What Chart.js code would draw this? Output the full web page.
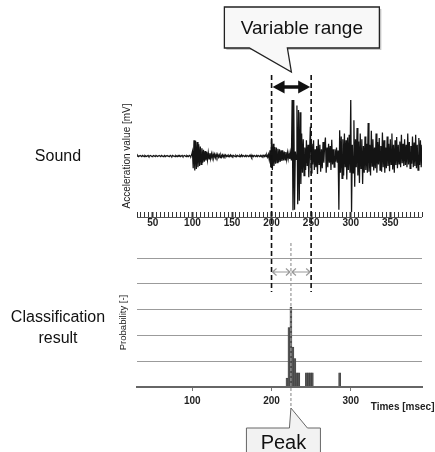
<!DOCTYPE html>
<html>
<head>
<meta charset="utf-8">
<script src="https://cdn.jsdelivr.net/npm/chart.js@4"></script>
<style>
  html, body { margin: 0; padding: 0; background: #fff; }
  #wrap { position: relative; width: 435px; height: 452px; overflow: hidden; }
  #sound { position: absolute; left: 0; top: 0; }
  #result { position: absolute; left: 0; top: 235px; }
</style>
</head>
<body>
<div id="wrap">
  <canvas id="sound" width="435" height="235"></canvas>
  <canvas id="result" width="435" height="217"></canvas>
</div>
<script>
(function () {
	'use strict';

	// Sound waveform, one sample per msec starting at 30 msec
	const soundStartMs = 30;
	const soundValues = [
		0, 0.01, -0.01, 0, 0.01, 0, -0.01, 0.01, 0, -0.01,               // 30
		0.01, 0, -0.01, 0, 0.01, -0.01, 0, 0.01, 0, -0.01,               // 40
		0, 0.01, 0, -0.01, 0.01, 0, -0.01, 0, 0.01, 0,                   // 50
		-0.01, 0.01, 0, -0.01, 0, 0.01, -0.01, 0, 0.01, 0,               // 60
		0, -0.01, 0.01, 0, -0.01, 0.01, 0, 0, -0.01, 0.01,               // 70
		0, -0.01, 0.01, 0, 0.01, -0.01, 0, 0.01, -0.01, 0,               // 80
		0.01, 0, -0.01, 0.01, 0, -0.01, 0.01, 0, -0.01, 0.02,            // 90
		0.08, -0.22, 0.28, -0.26, 0.27, -0.23, 0.25, -0.2, 0.21, -0.18,  // 100
		0.17, -0.15, 0.14, -0.12, 0.11, -0.1, 0.09, -0.08, 0.07, -0.07,  // 110
		0.06, -0.05, 0.05, -0.05, 0.04, -0.04, 0.04, -0.03, 0.03, -0.03, // 120
		0.03, -0.02, 0.03, -0.02, 0.02, -0.03, 0.02, -0.02, 0.02, -0.02, // 130
		0.02, -0.01, 0.02, -0.01, 0.01, -0.01, 0.01, -0.01, 0.02, -0.01, // 140
		0.01, -0.01, 0.01, 0, -0.01, 0.01, -0.01, 0.01, 0, -0.01,        // 150
		0.01, -0.01, 0.02, -0.01, 0.01, 0, -0.01, 0.01, -0.01, 0.01,     // 160
		0, -0.01, 0.01, -0.01, 0.02, -0.02, 0.01, -0.01, 0.01, 0,        // 170
		-0.01, 0.01, -0.01, 0.01, 0, -0.01, 0.01, -0.01, 0.01, -0.01,    // 180
		0.01, -0.01, 0.02, -0.01, 0.02, -0.02, 0.03, -0.06, 0.1, -0.2,   // 190
		0.32, -0.25, 0.22, -0.18, 0.16, -0.14, 0.15, -0.12, 0.13, -0.11, // 200
		0.12, -0.1, 0.1, -0.09, 0.1, -0.08, 0.08, -0.07, 0.07, -0.06,    // 210
		0.06, -0.05, 0.05, -0.05, 0.06, -0.08, 1.05, -0.97, 1.05, -0.96, // 220
		0.08, -0.06, 0.9, -0.86, 0.82, -0.8, 0.78, -0.5, 0.4, -0.3,      // 230
		0.3, -0.35, 0.15, -0.25, 0.28, -0.18, 0.2, -0.38, 0.1, 0.52,     // 240
		-0.3, 0.22, -0.15, 0.28, -0.25, 0.12, -0.2, 0.18, -0.32, 0.3,    // 250
		-0.15, 0.2, -0.28, 0.12, -0.22, 0.25, -0.12, 0.18, 0.33, -0.3,   // 260
		0.15, -0.2, 0.22, -0.12, 0.18, -0.25, 0.29, -0.15, 0.12, -0.2,   // 270
		0.12, -0.1, 0.15, -0.12, 0.1, -0.96, 0.46, -0.3, 0.35, -0.4,     // 280
		0.3, -0.35, 0.4, -0.2, 0.28, -0.42, 0.33, -0.25, 0.38, -0.3,     // 290
		1.05, -1.02, 0.2, -0.3, 0.64, -0.55, 0.3, -0.2, 0.5, -0.35,      // 300
		0.26, -0.48, 0.4, -0.22, 0.3, -0.5, 0.18, -0.3, 0.35, -0.25,     // 310
		0.22, -0.3, 0.59, -0.28, 0.2, -0.35, 0.45, -0.18, 0.3, -0.26,    // 320
		0.15, -0.22, 0.4, -0.3, 0.25, -0.15, 0.32, -0.25, 0.18, -0.28,   // 330
		0.42, -0.2, 0.28, -0.3, 0.15, -0.22, 0.35, -0.18, 0.22, -0.27,   // 340
		0.3, -0.15, 0.4, -0.24, 0.2, -0.3, 0.28, -0.16, 0.34, -0.22,     // 350
		0.2, -0.14, 0.26, -0.2, 0.38, -0.13, 0.22, -0.18, 0.3, -0.16,    // 360
		0.2, -0.2, 0.4, -0.15, 0.25, -0.22, 0.18, -0.14, 0.35, -0.2,     // 370
		0.24, -0.18, 0.38, -0.22, 0.2, -0.25, 0.32, -0.16, 0.28, -0.2,   // 380
		0.2                                                               // 390
	];

	// Classification result (probability per frame)
	const probTimes = [219.5, 222, 224.5, 227, 229.5, 232, 234.5, 244, 246.5, 249, 251.5, 286];
	const probValues = [0.07, 0.46, 0.62, 0.31, 0.22, 0.11, 0.11, 0.11, 0.11, 0.11, 0.11, 0.11];

	// Variable range (msec)
	const rangeStart = 200;
	const rangeEnd = 250;

	const timeMin = 30;
	const timeMax = 390;

	const peakIndex = probValues.indexOf( Math.max( ...probValues ) );
	const peakTime = probTimes[ peakIndex ];

	const FONT = '"Liberation Sans", Arial, sans-serif';
	Chart.defaults.font.family = FONT;
	Chart.defaults.color = '#222';

	const drawDashed = ( ctx, x, y1, y2, dash, color, width ) => {
		ctx.save();
		ctx.setLineDash( dash );
		ctx.strokeStyle = color;
		ctx.lineWidth = width;
		ctx.beginPath();
		ctx.moveTo( x, y1 );
		ctx.lineTo( x, y2 );
		ctx.stroke();
		ctx.restore();
	};

	// Overlays on the sound chart: label, tick base line, range marks, callout
	const soundOverlay = {
		id: 'soundOverlay',
		afterDraw( chart ) {
			const { ctx, chartArea, scales: { x, y } } = chart;
			const xs = x.getPixelForValue( rangeStart );
			const xe = x.getPixelForValue( rangeEnd );
			const mid = ( xs + xe ) / 2;

			ctx.save();
			ctx.fillStyle = '#111';
			ctx.font = '16px ' + FONT;
			ctx.textAlign = 'center';
			ctx.textBaseline = 'middle';
			ctx.fillText( 'Sound', 58, y.getPixelForValue( 0 ) + 1 );

			// base line under the tick comb
			ctx.strokeStyle = '#555';
			ctx.lineWidth = 1;
			ctx.beginPath();
			ctx.moveTo( chartArea.left, x.top + 5.5 );
			ctx.lineTo( chartArea.right, x.top + 5.5 );
			ctx.stroke();

			drawDashed( ctx, xs, chartArea.top - 25, chart.height, [ 5, 3 ], '#111', 1.6 );
			drawDashed( ctx, xe, chartArea.top - 25, chart.height, [ 5, 3 ], '#111', 1.6 );

			// black double arrow
			const ay = chartArea.top - 13;
			ctx.strokeStyle = '#111';
			ctx.fillStyle = '#111';
			ctx.lineWidth = 3.5;
			ctx.beginPath();
			ctx.moveTo( xs + 8, ay );
			ctx.lineTo( xe - 8, ay );
			ctx.stroke();
			ctx.beginPath();
			ctx.moveTo( xs + 1, ay );
			ctx.lineTo( xs + 13, ay - 6.5 );
			ctx.lineTo( xs + 13, ay + 6.5 );
			ctx.closePath();
			ctx.fill();
			ctx.beginPath();
			ctx.moveTo( xe - 1, ay );
			ctx.lineTo( xe - 13, ay - 6.5 );
			ctx.lineTo( xe - 13, ay + 6.5 );
			ctx.closePath();
			ctx.fill();

			// "Variable range" callout
			const bl = mid - 67, br = mid + 88, bt = 7, bb = 48;
			const tipY = chartArea.top - 28;
			ctx.fillStyle = '#c9c9c9';
			ctx.fillRect( bl + 2, bt + 2, br - bl, bb - bt );
			ctx.beginPath();
			ctx.moveTo( bl, bt );
			ctx.lineTo( br, bt );
			ctx.lineTo( br, bb );
			ctx.lineTo( mid - 4, bb );
			ctx.lineTo( mid, tipY );
			ctx.lineTo( mid - 42, bb );
			ctx.lineTo( bl, bb );
			ctx.closePath();
			ctx.fillStyle = '#f8f8f8';
			ctx.fill();
			ctx.strokeStyle = '#222';
			ctx.lineWidth = 1.3;
			ctx.stroke();
			ctx.fillStyle = '#111';
			ctx.font = '19px ' + FONT;
			ctx.fillText( 'Variable range', ( bl + br ) / 2, ( bt + bb ) / 2 + 1 );
			ctx.restore();
		}
	};

	// Overlays on the classification chart
	const resultOverlay = {
		id: 'resultOverlay',
		afterDraw( chart ) {
			const { ctx, chartArea, scales: { x } } = chart;
			const xs = x.getPixelForValue( rangeStart );
			const xe = x.getPixelForValue( rangeEnd );
			const xp = x.getPixelForValue( peakTime );

			ctx.save();
			ctx.fillStyle = '#111';
			ctx.font = '16px ' + FONT;
			ctx.textAlign = 'center';
			ctx.textBaseline = 'middle';
			ctx.fillText( 'Classification', 58, chartArea.top + 60 );
			ctx.fillText( 'result', 58, chartArea.top + 81 );

			ctx.font = 'bold 10px ' + FONT;
			ctx.textAlign = 'left';
			ctx.fillStyle = '#222';
			ctx.fillText( 'Times [msec]', x.getPixelForValue( 300 ) + 20, chartArea.bottom + 20 );

			drawDashed( ctx, xs, 0, chartArea.top + 34, [ 5, 3 ], '#111', 1.6 );
			drawDashed( ctx, xe, 0, chartArea.top + 34, [ 5, 3 ], '#111', 1.6 );
			drawDashed( ctx, xp, chartArea.top - 15, chartArea.bottom + 21, [ 3, 2 ], '#999', 1.2 );

			// gray double arrows: start -> peak -> end
			const ay = chartArea.top + 14;
			ctx.strokeStyle = '#9a9a9a';
			ctx.lineWidth = 1.2;
			[ [ xs, xp ], [ xp, xe ] ].forEach( ( [ a, b ] ) => {
				ctx.beginPath();
				ctx.moveTo( a + 1, ay );
				ctx.lineTo( b - 1, ay );
				ctx.moveTo( a + 5, ay - 3.5 );
				ctx.lineTo( a + 1, ay );
				ctx.lineTo( a + 5, ay + 3.5 );
				ctx.moveTo( b - 5, ay - 3.5 );
				ctx.lineTo( b - 1, ay );
				ctx.lineTo( b - 5, ay + 3.5 );
				ctx.stroke();
			} );

			// "Peak" callout
			const tipY = chartArea.bottom + 21;
			const bt = chartArea.bottom + 41;
			const bl = xp - 44.5, br = xp + 29.5, bb = bt + 40;
			ctx.beginPath();
			ctx.moveTo( bl, bt );
			ctx.lineTo( xp - 1.5, bt );
			ctx.lineTo( xp, tipY );
			ctx.lineTo( xp + 16.5, bt );
			ctx.lineTo( br, bt );
			ctx.lineTo( br, bb );
			ctx.lineTo( bl, bb );
			ctx.closePath();
			ctx.fillStyle = '#f2f2f2';
			ctx.fill();
			ctx.strokeStyle = '#666';
			ctx.lineWidth = 1;
			ctx.stroke();
			ctx.fillStyle = '#111';
			ctx.font = '20px ' + FONT;
			ctx.textAlign = 'center';
			ctx.fillText( 'Peak', ( bl + br ) / 2, bt + 15 );
			ctx.restore();
		}
	};

	new Chart( document.getElementById( 'sound' ), {
		type: 'line',
		data: {
			datasets: [ {
				label: 'Sound',
				data: soundValues.map( ( v, i ) => ( { x: soundStartMs + i, y: v } ) ),
				borderColor: '#141414',
				borderWidth: 1.25,
				pointRadius: 0,
				tension: 0,
				fill: false
			} ]
		},
		options: {
			responsive: false,
			animation: false,
			layout: { padding: { left: 121, top: 100, right: 13, bottom: 6 } },
			plugins: { legend: { display: false }, tooltip: { enabled: false } },
			scales: {
				x: {
					type: 'linear',
					min: timeMin,
					max: timeMax,
					ticks: {
						stepSize: 5,
						autoSkip: false,
						maxRotation: 0,
						padding: 0,
						color: '#222',
						font: { size: 10, weight: 'bold' },
						callback: v => v % 50 === 0 ? String( v ) : ''
					},
					grid: {
						drawOnChartArea: false,
						tickLength: 5,
						tickColor: '#333',
						tickWidth: c => c.tick && c.tick.value % 50 === 0 ? 2 : 1
					},
					border: { display: false }
				},
				y: {
					min: -1,
					max: 1,
					ticks: { display: false },
					grid: { display: false, drawTicks: false },
					border: { display: false },
					title: {
						display: true,
						text: 'Acceleration value [mV]',
						color: '#1a1a1a',
						font: { size: 10 },
						padding: { top: 0, bottom: 4 }
					}
				}
			}
		},
		plugins: [ soundOverlay ]
	} );

	new Chart( document.getElementById( 'result' ), {
		type: 'bar',
		data: {
			datasets: [ {
				label: 'Probability',
				data: probTimes.map( ( t, i ) => ( { x: t, y: probValues[ i ] } ) ),
				backgroundColor: '#555',
				borderColor: '#333',
				borderWidth: 0.5,
				barPercentage: 1,
				categoryPercentage: 1
			} ]
		},
		options: {
			responsive: false,
			animation: false,
			layout: { padding: { left: 117.5, top: 23, right: 13, bottom: 41 } },
			plugins: { legend: { display: false }, tooltip: { enabled: false } },
			scales: {
				x: {
					type: 'linear',
					min: timeMin,
					max: timeMax,
					offset: false,
					ticks: {
						stepSize: 100,
						includeBounds: false,
						maxRotation: 0,
						padding: 4,
						color: '#222',
						font: { size: 10, weight: 'bold' }
					},
					grid: { offset: false, drawOnChartArea: false, tickLength: 4, tickColor: '#777' },
					border: { display: true, color: '#666', width: 2 }
				},
				y: {
					min: 0,
					max: 1,
					ticks: { display: false, stepSize: 0.2 },
					grid: {
						drawTicks: false,
						color: '#9b9b9b',
						lineWidth: c => c.tick && c.tick.value === 0 ? 2 : 1
					},
					border: { display: false },
					title: {
						display: true,
						text: 'Probability [-]',
						color: '#1a1a1a',
						font: { size: 9.5 },
						padding: { top: 0, bottom: 8 }
					}
				}
			}
		},
		plugins: [ resultOverlay ]
	} );
})();
</script>
</body>
</html>
